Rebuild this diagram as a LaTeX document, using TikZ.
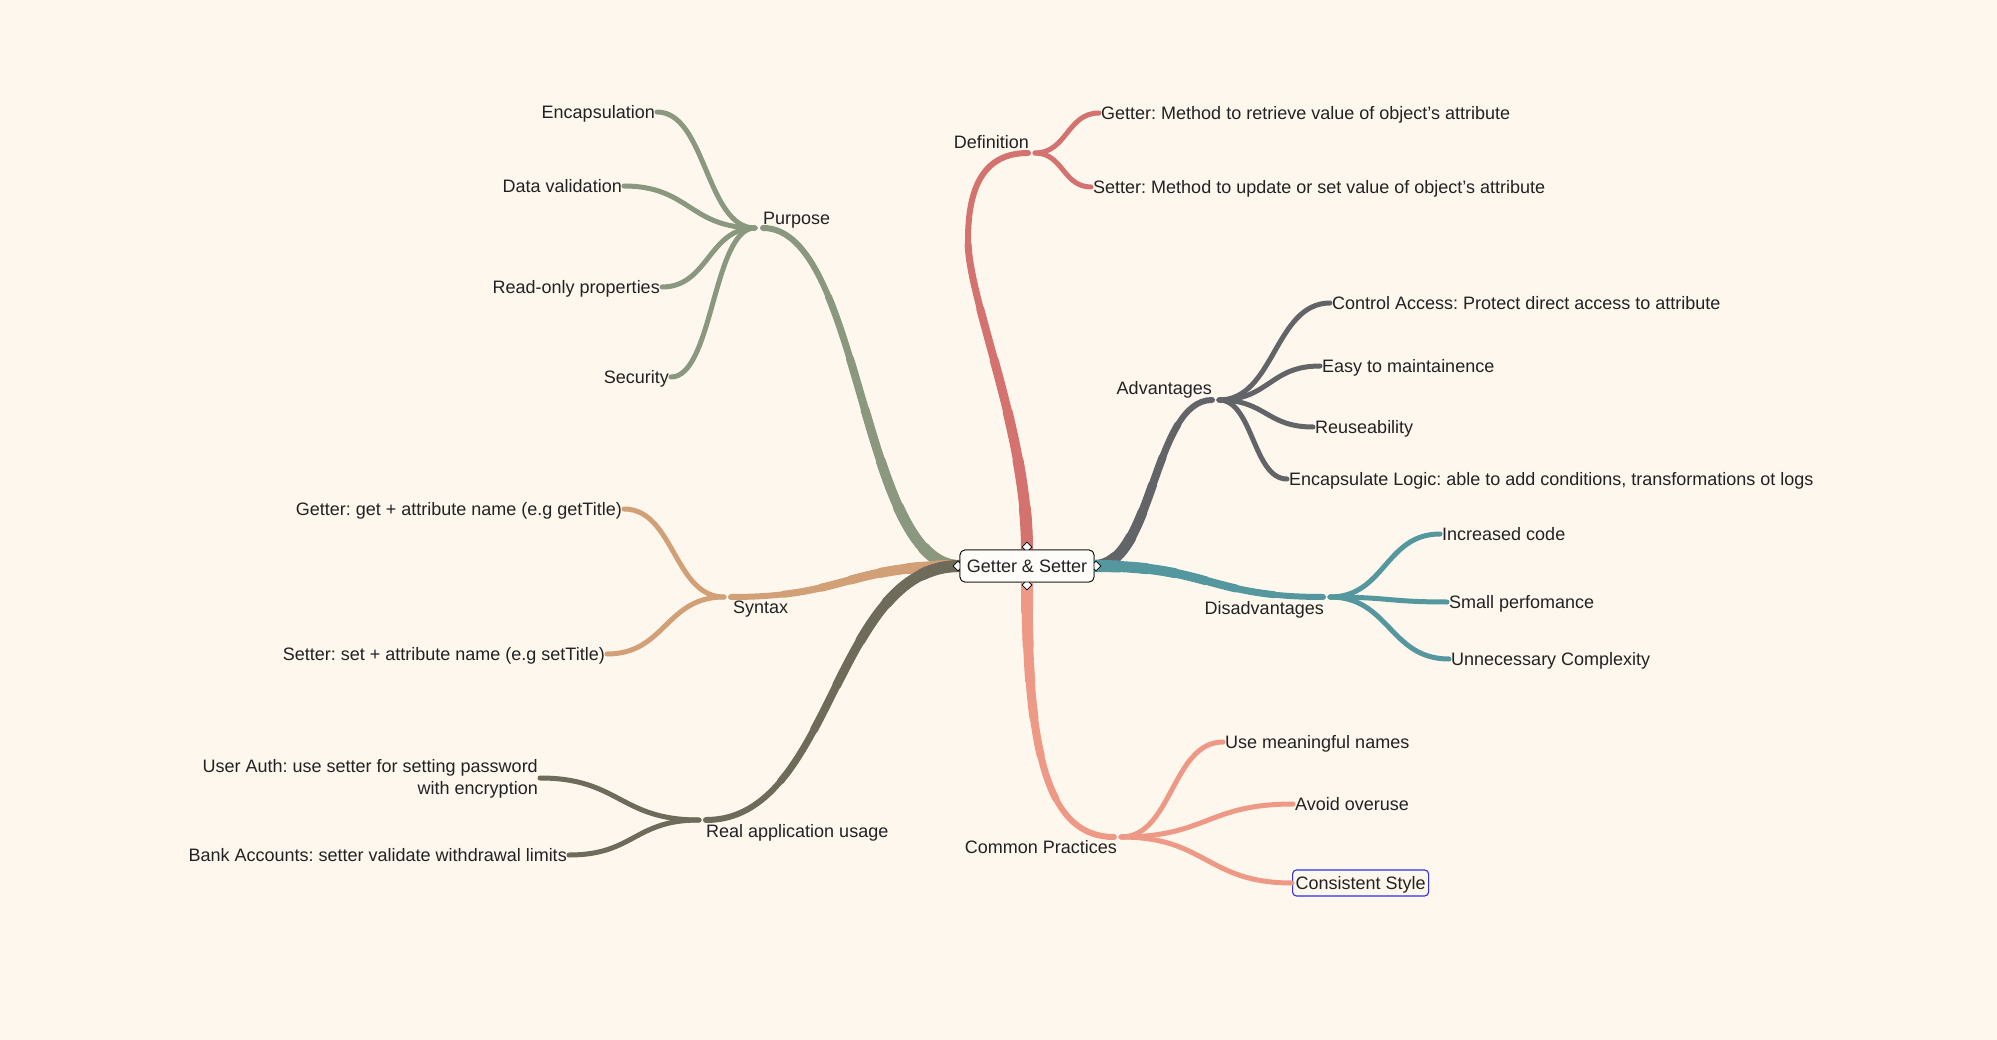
\documentclass[tikz,border=0pt]{standalone}
\usepackage{fontspec}
\setmainfont{Liberation Sans}
\usepackage{xcolor}
\usetikzlibrary{calc, shapes.geometric}
\frenchspacing

\definecolor{paper}{HTML}{FDF7EE}
\definecolor{ink}{HTML}{222222}
\definecolor{defn}{HTML}{D47270}
\definecolor{purp}{HTML}{8A9880}
\definecolor{adv}{HTML}{636468}
\definecolor{disadv}{HTML}{55979F}
\definecolor{pract}{HTML}{EE9986}
\definecolor{synt}{HTML}{D1A077}
\definecolor{usage}{HTML}{6E6B5A}
\definecolor{pick}{HTML}{2F2FE8}

% thick branch out of the hub, thinner towards its end
\newcommand{\trunk}[3]{%
	\foreach \w/\f in {12/0.10, 11/0.22, 10/0.34, 9/0.47, 8/0.60, 7/0.76} {
		\pgfmathsetmacro{\stemlen}{\f*#2}
		\draw[#1, line width=\w pt, line cap=round, dash pattern=on \stemlen pt off 3000pt] #3;
	}
	\draw[#1, line width=6pt, line cap=round] #3;
}
% thin S-shaped branch to a leaf
\newcommand{\twig}[3]{%
	\draw[twig, #1] let \p1=(#2), \p2=(#3) in
		(\p1) .. controls ({0.5*\x1+0.5*\x2},\y1) and ({0.5*\x1+0.5*\x2},\y2) .. (\p2);
}

\begin{document}
\begin{tikzpicture}[x=1pt, y=-1pt,
		every node/.style={font=\fontsize{18}{21.6}\selectfont, text=ink, text height=13pt, text depth=0pt, inner xsep=2pt},
		twig/.style={line width=5pt, line cap=round},
		hub/.style={draw=black, line width=0.8pt, rounded corners=5pt, fill=white!60!paper, minimum width=134pt, minimum height=32pt},
		knob/.style={diamond, draw=black, fill=white, line width=0.7pt, minimum size=10pt, inner sep=0pt, text height=0pt},
		chosen/.style={draw=pick, line width=1.1pt, rounded corners=4pt, inner xsep=3pt, minimum height=26pt}]

			\useasboundingbox (0,0) rectangle (1997,1040);
			\fill[paper] (0,0) rectangle (1997,1040);

			% hub and junctions
			\node[hub] (c) at (1027,566) {};

			\coordinate (jdef) at (1028,153);
			\coordinate (kdef) at (1035,153);
			\coordinate (jpur) at (763,228);
			\coordinate (kpur) at (755,228);
			\coordinate (jadv) at (1212,400);
			\coordinate (kadv) at (1219,400);
			\coordinate (jdis) at (1323,597);
			\coordinate (kdis) at (1330,597);
			\coordinate (jcp) at (1114,837);
			\coordinate (kcp) at (1121,837);
			\coordinate (jsyn) at (731,597);
			\coordinate (ksyn) at (724,597);
			\coordinate (juse) at (706,820);
			\coordinate (kuse) at (699,820);

			% main branches
			\trunk{defn}{410}{(c.north) .. controls (1027,430) and (968,300) .. (968,240) .. controls (968,185) and (985,153) .. (jdef)}
			\trunk{purp}{410}{let \p1=(c.west), \p2=(jpur) in (\p1) .. controls ({0.5*\x1+0.5*\x2},\y1) and ({0.5*\x1+0.5*\x2},\y2) .. (\p2)}
			\trunk{synt}{235}{let \p1=(c.west), \p2=(jsyn) in (\p1) .. controls ({0.5*\x1+0.5*\x2},\y1) and ({0.5*\x1+0.5*\x2},\y2) .. (\p2)}
			\trunk{usage}{385}{let \p1=(c.west), \p2=(juse) in (\p1) .. controls ({0.5*\x1+0.5*\x2},\y1) and ({0.5*\x1+0.5*\x2},\y2) .. (\p2)}
			\trunk{adv}{225}{let \p1=(c.east), \p2=(jadv) in (\p1) .. controls ({0.5*\x1+0.5*\x2},\y1) and ({0.5*\x1+0.5*\x2},\y2) .. (\p2)}
			\trunk{disadv}{240}{let \p1=(c.east), \p2=(jdis) in (\p1) .. controls ({0.5*\x1+0.5*\x2},\y1) and ({0.5*\x1+0.5*\x2},\y2) .. (\p2)}
			\trunk{pract}{290}{(c.south) .. controls (1027,760) and (1050,837) .. (jcp)}

			% hub on top, with its handles
			\node[knob] (hn) at (1027,547) {};
			\node[knob] (hs) at (1027,585) {};
			\node[knob] (hw) at (958,566) {};
			\node[knob] (he) at (1096,566) {};
			\node[hub] (hub) at (1027,566) {Getter \& Setter};

			% branch labels
			\node[anchor=base east] (ldef) at (1031,149) {Definition};
			\node[anchor=base west] (lpur) at (761,225) {Purpose};
			\node[anchor=base east] (ladv) at (1214,395) {Advantages};
			\node[anchor=base east] (ldis) at (1326,614) {Disadvantages};
			\node[anchor=base east] (lcp) at (1119,853) {Common Practices};
			\node[anchor=base west] (lsyn) at (731,613) {Syntax};
			\node[anchor=base west] (luse) at (704,837) {Real application usage};

			% leaves
			\node[anchor=west] (getdef) at (1099,113) {Getter: Method to retrieve value of object’s attribute};
			\node[anchor=west] (setdef) at (1091,187) {Setter: Method to update or set value of object’s attribute};

			\node[anchor=east] (enc) at (657,112) {Encapsulation};
			\node[anchor=east] (dval) at (624,186) {Data validation};
			\node[anchor=east] (rop) at (662,287) {Read-only properties};
			\node[anchor=east] (sec) at (671,377) {Security};

			\node[anchor=west] (ctrl) at (1330,303) {Control Access: Protect direct access to attribute};
			\node[anchor=west] (easy) at (1320,366) {Easy to maintainence};
			\node[anchor=west] (reuse) at (1313,427) {Reuseability};
			\node[anchor=west] (encl) at (1287,479) {Encapsulate Logic: able to add conditions, transformations ot logs};

			\node[anchor=west] (inc) at (1440,534) {Increased code};
			\node[anchor=west] (small) at (1447,602) {Small perfomance};
			\node[anchor=west] (unnec) at (1449,659) {Unnecessary Complexity};

			\node[anchor=west] (names) at (1223,742) {Use meaningful names};
			\node[anchor=west] (overuse) at (1293,804) {Avoid overuse};
			\node[anchor=west, chosen] (style) at (1292,883) {Consistent Style};

			\node[anchor=east] (getsyn) at (624,509) {Getter: get + attribute name (e.g getTitle)};
			\node[anchor=east] (setsyn) at (607,654) {Setter: set + attribute name (e.g setTitle)};

			\node[anchor=east, align=right, text height=33pt, text depth=0pt] (auth) at (540,778) {User Auth: use setter for setting password\\with encryption};
			\node[anchor=east] (bank) at (569,855) {Bank Accounts: setter validate withdrawal limits};

			% leaf branches
			\twig{defn}{kdef}{getdef.west}
			\twig{defn}{kdef}{setdef.west}

			\twig{purp}{kpur}{enc.east}
			\twig{purp}{kpur}{dval.east}
			\twig{purp}{kpur}{rop.east}
			\twig{purp}{kpur}{sec.east}

			\twig{adv}{kadv}{ctrl.west}
			\twig{adv}{kadv}{easy.west}
			\twig{adv}{kadv}{reuse.west}
			\twig{adv}{kadv}{encl.west}

			\twig{disadv}{kdis}{inc.west}
			\twig{disadv}{kdis}{small.west}
			\twig{disadv}{kdis}{unnec.west}

			\twig{pract}{kcp}{names.west}
			\twig{pract}{kcp}{overuse.west}
			\twig{pract}{kcp}{style.west}

			\twig{synt}{ksyn}{getsyn.east}
			\twig{synt}{ksyn}{setsyn.east}

			\twig{usage}{kuse}{auth.east}
			\twig{usage}{kuse}{bank.east}
		\end{tikzpicture}
\end{document}
